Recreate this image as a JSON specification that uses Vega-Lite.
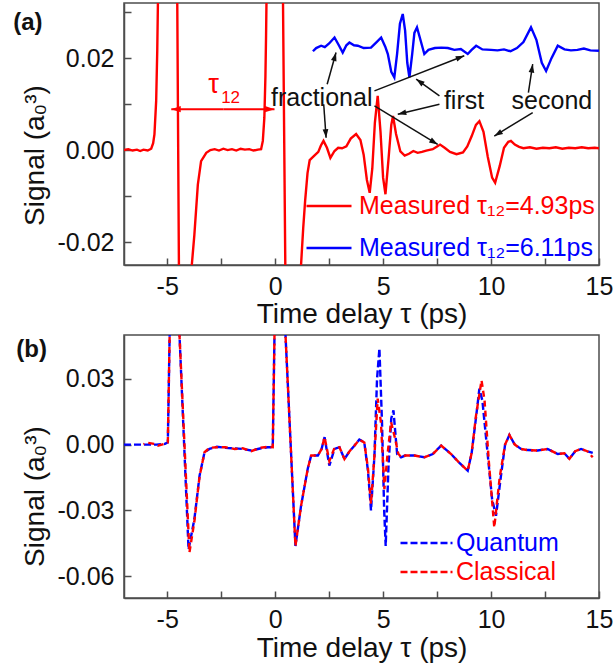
{
  "$schema": "https://vega.github.io/schema/vega-lite/v6.json",
  "background": "white",
  "padding": {"left": 12, "top": 2, "right": 2, "bottom": 2},
  "spacing": 5,
  "config": {
    "font": "Liberation Sans",
    "view": {"stroke": "#4d4d4d", "strokeWidth": 1.5},
    "axis": {"domainColor": "#4d4d4d", "domainWidth": 1.5, "tickColor": "#4d4d4d", "tickWidth": 1.5, "tickSize": -7, "labelColor": "#111", "titleColor": "#111", "labelFontSize": 25, "titleFontSize": 28, "titleFontWeight": "normal", "grid": false, "labelOverlap": false, "labelFlush": false, "labelBound": false},
    "legend": {"labelFontSize": 25, "labelLimit": 400, "symbolType": "stroke", "symbolStrokeWidth": 2.5, "padding": 0, "clipHeight": 28}
  },
  "resolve": {"scale": {"color": "independent"}, "legend": {"color": "independent"}},
  "vconcat": [
    {
      "width": 475, "height": 262,
      "layer": [
        {
          "data": {"values": [
            {"t":-7.0,"v":0.0,"c":"4.93"},{"t":-6.8,"v":0.0002,"c":"4.93"},{"t":-6.6,"v":-0.0001,"c":"4.93"},{"t":-6.4,"v":0.0001,"c":"4.93"},{"t":-6.25,"v":-0.0002,"c":"4.93"},{"t":-6.1,"v":0.0001,"c":"4.93"},{"t":-5.9,"v":-0.0001,"c":"4.93"},{"t":-5.74,"v":0.0003,"c":"4.93"},{"t":-5.65,"v":0.0015,"c":"4.93"},{"t":-5.59,"v":0.0034,"c":"4.93"},{"t":-5.51,"v":0.0107,"c":"4.93"},{"t":-5.46,"v":0.0216,"c":"4.93"},{"t":-5.42,"v":0.035,"c":"4.93"},{"t":-5.3,"v":0.07,"c":"4.93"},{"t":-5.0,"v":0.1,"c":"4.93"},{"t":-4.75,"v":0.08,"c":"4.93"},{"t":-4.55,"v":0.045,"c":"4.93"},{"t":-4.45,"v":-0.03,"c":"4.93"},{"t":-4.2,"v":-0.05,"c":"4.93"},{"t":-4.0,"v":-0.045,"c":"4.93"},{"t":-3.86,"v":-0.025,"c":"4.93"},{"t":-3.74,"v":-0.0184,"c":"4.93"},{"t":-3.58,"v":-0.0075,"c":"4.93"},{"t":-3.43,"v":-0.0024,"c":"4.93"},{"t":-3.19,"v":-0.0006,"c":"4.93"},{"t":-3.0,"v":0.0,"c":"4.93"},{"t":-2.8,"v":0.0002,"c":"4.93"},{"t":-2.6,"v":-0.0001,"c":"4.93"},{"t":-2.4,"v":0.0003,"c":"4.93"},{"t":-2.2,"v":0.0,"c":"4.93"},{"t":-2.0,"v":0.0002,"c":"4.93"},{"t":-1.8,"v":-0.0001,"c":"4.93"},{"t":-1.6,"v":0.0003,"c":"4.93"},{"t":-1.4,"v":0.0001,"c":"4.93"},{"t":-1.2,"v":0.0002,"c":"4.93"},{"t":-1.0,"v":-0.0001,"c":"4.93"},{"t":-0.8,"v":0.0001,"c":"4.93"},{"t":-0.65,"v":0.0002,"c":"4.93"},{"t":-0.57,"v":0.002,"c":"4.93"},{"t":-0.5,"v":0.007,"c":"4.93"},{"t":-0.45,"v":0.016,"c":"4.93"},{"t":-0.42,"v":0.025,"c":"4.93"},{"t":-0.38,"v":0.04,"c":"4.93"},{"t":-0.2,"v":0.09,"c":"4.93"},{"t":0.1,"v":0.09,"c":"4.93"},{"t":0.35,"v":0.04,"c":"4.93"},{"t":0.48,"v":-0.03,"c":"4.93"},{"t":0.75,"v":-0.05,"c":"4.93"},{"t":1.05,"v":-0.04,"c":"4.93"},{"t":1.2,"v":-0.025,"c":"4.93"},{"t":1.3,"v":-0.017,"c":"4.93"},{"t":1.39,"v":-0.011,"c":"4.93"},{"t":1.5,"v":-0.005,"c":"4.93"},{"t":1.6,"v":-0.0022,"c":"4.93"},{"t":1.84,"v":-0.0011,"c":"4.93"},{"t":2.0,"v":-0.0004,"c":"4.93"},{"t":2.12,"v":0.001,"c":"4.93"},{"t":2.24,"v":0.002,"c":"4.93"},{"t":2.4,"v":0.0005,"c":"4.93"},{"t":2.56,"v":-0.0017,"c":"4.93"},{"t":2.75,"v":-0.0002,"c":"4.93"},{"t":2.92,"v":0.0005,"c":"4.93"},{"t":3.1,"v":0.0004,"c":"4.93"},{"t":3.3,"v":0.0008,"c":"4.93"},{"t":3.5,"v":0.0025,"c":"4.93"},{"t":3.75,"v":0.0035,"c":"4.93"},{"t":3.95,"v":0.0022,"c":"4.93"},{"t":4.1,"v":-0.001,"c":"4.93"},{"t":4.25,"v":-0.0065,"c":"4.93"},{"t":4.38,"v":-0.0093,"c":"4.93"},{"t":4.5,"v":-0.004,"c":"4.93"},{"t":4.62,"v":0.006,"c":"4.93"},{"t":4.75,"v":0.0118,"c":"4.93"},{"t":4.88,"v":0.004,"c":"4.93"},{"t":5.0,"v":-0.006,"c":"4.93"},{"t":5.11,"v":-0.0096,"c":"4.93"},{"t":5.25,"v":-0.002,"c":"4.93"},{"t":5.38,"v":0.0055,"c":"4.93"},{"t":5.46,"v":0.0074,"c":"4.93"},{"t":5.6,"v":0.0035,"c":"4.93"},{"t":5.8,"v":-0.0003,"c":"4.93"},{"t":6.0,"v":-0.0012,"c":"4.93"},{"t":6.2,"v":-0.0008,"c":"4.93"},{"t":6.4,"v":-0.0002,"c":"4.93"},{"t":6.6,"v":-0.0006,"c":"4.93"},{"t":6.8,"v":-0.0004,"c":"4.93"},{"t":7.0,"v":-0.0001,"c":"4.93"},{"t":7.3,"v":0.0002,"c":"4.93"},{"t":7.5,"v":0.0008,"c":"4.93"},{"t":7.64,"v":0.0012,"c":"4.93"},{"t":7.85,"v":0.0005,"c":"4.93"},{"t":8.1,"v":-0.0004,"c":"4.93"},{"t":8.4,"v":-0.0009,"c":"4.93"},{"t":8.7,"v":-0.0005,"c":"4.93"},{"t":8.9,"v":0.0008,"c":"4.93"},{"t":9.1,"v":0.003,"c":"4.93"},{"t":9.3,"v":0.0055,"c":"4.93"},{"t":9.46,"v":0.0063,"c":"4.93"},{"t":9.65,"v":0.004,"c":"4.93"},{"t":9.85,"v":-0.0015,"c":"4.93"},{"t":10.05,"v":-0.006,"c":"4.93"},{"t":10.19,"v":-0.0071,"c":"4.93"},{"t":10.4,"v":-0.0035,"c":"4.93"},{"t":10.6,"v":0.0005,"c":"4.93"},{"t":10.8,"v":0.0018,"c":"4.93"},{"t":10.92,"v":0.002,"c":"4.93"},{"t":11.1,"v":0.0012,"c":"4.93"},{"t":11.3,"v":0.0007,"c":"4.93"},{"t":11.5,"v":0.0004,"c":"4.93"},{"t":11.8,"v":0.0006,"c":"4.93"},{"t":12.1,"v":0.0003,"c":"4.93"},{"t":12.4,"v":0.0005,"c":"4.93"},{"t":12.7,"v":0.0004,"c":"4.93"},{"t":13.0,"v":0.0006,"c":"4.93"},{"t":13.3,"v":0.0003,"c":"4.93"},{"t":13.6,"v":0.0005,"c":"4.93"},{"t":13.9,"v":0.0004,"c":"4.93"},{"t":14.2,"v":0.0006,"c":"4.93"},{"t":14.5,"v":0.0004,"c":"4.93"},{"t":14.8,"v":0.0005,"c":"4.93"},{"t":15.0,"v":0.0004,"c":"4.93"},
            {"t":1.75,"v":0.0215,"c":"6.11"},{"t":1.9,"v":0.0222,"c":"6.11"},{"t":2.13,"v":0.0227,"c":"6.11"},{"t":2.3,"v":0.0224,"c":"6.11"},{"t":2.5,"v":0.0232,"c":"6.11"},{"t":2.75,"v":0.0245,"c":"6.11"},{"t":2.95,"v":0.0228,"c":"6.11"},{"t":3.13,"v":0.0212,"c":"6.11"},{"t":3.3,"v":0.0228,"c":"6.11"},{"t":3.44,"v":0.0234,"c":"6.11"},{"t":3.65,"v":0.0228,"c":"6.11"},{"t":3.83,"v":0.0227,"c":"6.11"},{"t":4.1,"v":0.0222,"c":"6.11"},{"t":4.44,"v":0.0223,"c":"6.11"},{"t":4.7,"v":0.0235,"c":"6.11"},{"t":4.91,"v":0.0245,"c":"6.11"},{"t":5.1,"v":0.0225,"c":"6.11"},{"t":5.22,"v":0.0209,"c":"6.11"},{"t":5.38,"v":0.017,"c":"6.11"},{"t":5.52,"v":0.0158,"c":"6.11"},{"t":5.65,"v":0.021,"c":"6.11"},{"t":5.78,"v":0.0275,"c":"6.11"},{"t":5.91,"v":0.0296,"c":"6.11"},{"t":6.02,"v":0.026,"c":"6.11"},{"t":6.12,"v":0.019,"c":"6.11"},{"t":6.22,"v":0.0158,"c":"6.11"},{"t":6.35,"v":0.021,"c":"6.11"},{"t":6.45,"v":0.0255,"c":"6.11"},{"t":6.57,"v":0.0267,"c":"6.11"},{"t":6.7,"v":0.0245,"c":"6.11"},{"t":6.91,"v":0.0209,"c":"6.11"},{"t":7.1,"v":0.0218,"c":"6.11"},{"t":7.4,"v":0.0222,"c":"6.11"},{"t":7.7,"v":0.0223,"c":"6.11"},{"t":8.0,"v":0.0222,"c":"6.11"},{"t":8.3,"v":0.0218,"c":"6.11"},{"t":8.6,"v":0.022,"c":"6.11"},{"t":8.92,"v":0.0209,"c":"6.11"},{"t":9.1,"v":0.0218,"c":"6.11"},{"t":9.31,"v":0.0227,"c":"6.11"},{"t":9.6,"v":0.0219,"c":"6.11"},{"t":10.0,"v":0.0218,"c":"6.11"},{"t":10.3,"v":0.0217,"c":"6.11"},{"t":10.6,"v":0.0219,"c":"6.11"},{"t":10.9,"v":0.0215,"c":"6.11"},{"t":11.2,"v":0.0222,"c":"6.11"},{"t":11.5,"v":0.0235,"c":"6.11"},{"t":11.85,"v":0.0267,"c":"6.11"},{"t":12.1,"v":0.024,"c":"6.11"},{"t":12.35,"v":0.019,"c":"6.11"},{"t":12.55,"v":0.0172,"c":"6.11"},{"t":12.8,"v":0.02,"c":"6.11"},{"t":13.09,"v":0.0227,"c":"6.11"},{"t":13.4,"v":0.0219,"c":"6.11"},{"t":13.7,"v":0.0217,"c":"6.11"},{"t":14.0,"v":0.0218,"c":"6.11"},{"t":14.3,"v":0.0221,"c":"6.11"},{"t":14.6,"v":0.0217,"c":"6.11"},{"t":15.0,"v":0.0216,"c":"6.11"}
          ]},
          "mark": {"type": "line", "clip": true, "strokeWidth": 2.4},
          "encoding": {
            "x": {"field": "t", "type": "quantitative", "scale": {"domain": [-7, 15], "nice": false, "zero": false},
                  "axis": {"title": "Time delay τ (ps)", "values": [-5, -2.5, 0, 2.5, 5, 7.5, 10, 12.5, 15], "labelExpr": "datum.value % 5 == 0 ? replace(datum.label, '−', '-') : ''", "labelFontSize": {"condition": {"test": "datum.value % 5 == 0", "value": 25}, "value": 0}, "labelPadding": 16, "titleBaseline": "alphabetic", "titleY": 57}},
            "y": {"field": "v", "type": "quantitative", "scale": {"domain": [-0.025, 0.032], "nice": false, "zero": false},
                  "axis": {"title": "Signal (a₀³)", "values": [-0.02, -0.01, 0, 0.01, 0.02, 0.03], "labelExpr": "(datum.value == 0 || abs(datum.value) == 0.02) ? replace(format(datum.value, '.2f'), '−', '-') : ''", "labelFontSize": {"condition": {"test": "datum.value == 0 || abs(datum.value) == 0.02", "value": 25}, "value": 0}, "labelPadding": 17, "titleX": -81, "titleY": 152, "titleBaseline": "alphabetic"}},
            "color": {"field": "c", "type": "nominal", "scale": {"domain": ["4.93", "6.11"], "range": ["#ff0000", "#0000ff"]},
                      "legend": {"title": null, "orient": "none", "legendX": 181, "legendY": 189, "symbolSize": 2025, "labelOffset": 6, "rowPadding": 14, "labelExpr": "'Measured τ₁₂=' + datum.label + 'ps'",
                                 "encode": {"labels": {"update": {"fill": {"signal": "datum.value == '4.93' ? '#ff0000' : '#0000ff'"}}}}}}
          }
        },
        {
          "data": {"values": [
            {"x": -2.4, "y": 0.0089, "x2": -4.81, "y2": 0.0089},
            {"x": -2.4, "y": 0.0089, "x2": -0.03, "y2": 0.0089}
          ]},
          "transform": [{"calculate": "atan2((datum.x2 - datum.x) * 21.59, (datum.y2 - datum.y) * 4596) * 180 / PI", "as": "ang"}],
          "layer": [
            {"mark": {"type": "rule", "color": "#ff0000", "strokeWidth": 2},
             "encoding": {"x": {"field": "x", "type": "quantitative"}, "y": {"field": "y", "type": "quantitative"}, "x2": {"field": "x2"}, "y2": {"field": "y2"}}},
            {"mark": {"type": "point", "shape": "M0,0L-0.6,1.8L0.6,1.8Z", "filled": true, "color": "#ff0000", "size": 110, "opacity": 1},
             "encoding": {"x": {"field": "x2", "type": "quantitative"}, "y": {"field": "y2", "type": "quantitative"}, "angle": {"field": "ang", "type": "quantitative", "scale": null}}}
          ]
        },
        {
          "data": {"values": [
            {"x": 2.41, "y": 0.01434, "x2": 2.82, "y2": 0.02124},
            {"x": 2.25, "y": 0.00998, "x2": 2.36, "y2": 0.00269},
            {"x": 4.6, "y": 0.01288, "x2": 8.76, "y2": 0.02052},
            {"x": 4.6, "y": 0.00961, "x2": 7.53, "y2": 0.00124},
            {"x": 7.61, "y": 0.01179, "x2": 6.53, "y2": 0.01544},
            {"x": 7.61, "y": 0.00998, "x2": 5.68, "y2": 0.00779},
            {"x": 11.73, "y": 0.01251, "x2": 11.93, "y2": 0.01871},
            {"x": 11.93, "y": 0.00814, "x2": 10.15, "y2": 0.00306}
          ]},
          "transform": [{"calculate": "atan2((datum.x2 - datum.x) * 21.59, (datum.y2 - datum.y) * 4596) * 180 / PI", "as": "ang"}],
          "layer": [
            {"mark": {"type": "rule", "color": "#111", "strokeWidth": 1.5},
             "encoding": {"x": {"field": "x", "type": "quantitative"}, "y": {"field": "y", "type": "quantitative"}, "x2": {"field": "x2"}, "y2": {"field": "y2"}}},
            {"mark": {"type": "point", "shape": "M0,0L-0.6,1.8L0.6,1.8Z", "filled": true, "color": "#111", "size": 90, "opacity": 1},
             "encoding": {"x": {"field": "x2", "type": "quantitative"}, "y": {"field": "y2", "type": "quantitative"}, "angle": {"field": "ang", "type": "quantitative", "scale": null}}}
          ]
        },
        {
          "data": {"values": [
            {"x": 2.157, "y": 0.0096, "label": "fractional"},
            {"x": 8.75, "y": 0.00895, "label": "first"},
            {"x": 12.82, "y": 0.00895, "label": "second"}
          ]},
          "mark": {"type": "text", "fontSize": 25, "color": "#111", "align": "center", "baseline": "alphabetic"},
          "encoding": {"x": {"field": "x", "type": "quantitative"}, "y": {"field": "y", "type": "quantitative"}, "text": {"field": "label"}}
        },
        {
          "data": {"values": [{"x": -2.85, "y": 0.01245, "label": "τ"}]},
          "mark": {"type": "text", "fontSize": 27, "color": "#ff0000", "align": "center", "baseline": "alphabetic"},
          "encoding": {"x": {"field": "x", "type": "quantitative"}, "y": {"field": "y", "type": "quantitative"}, "text": {"field": "label"}}
        },
        {
          "data": {"values": [{"x": -2.5, "y": 0.01026, "label": "12"}]},
          "mark": {"type": "text", "fontSize": 17, "color": "#ff0000", "align": "left", "baseline": "alphabetic"},
          "encoding": {"x": {"field": "x", "type": "quantitative"}, "y": {"field": "y", "type": "quantitative"}, "text": {"field": "label"}}
        },
        {
          "data": {"values": [{"x": -12.13, "y": 0.02613, "label": "(a)"}]},
          "mark": {"type": "text", "fontSize": 24, "fontWeight": "bold", "color": "#111", "align": "left", "baseline": "alphabetic", "clip": false},
          "encoding": {"x": {"field": "x", "type": "quantitative"}, "y": {"field": "y", "type": "quantitative"}, "text": {"field": "label"}}
        }
      ]
    },
    {
      "width": 475, "height": 263,
      "data": {"values": [
        {"t":-7.0,"v":0.0,"c":"Quantum"},{"t":-6.5,"v":0.0,"c":"Quantum"},{"t":-6.0,"v":0.0,"c":"Quantum"},{"t":-5.5,"v":0.0,"c":"Quantum"},{"t":-5.1,"v":0.0003,"c":"Quantum"},{"t":-4.97,"v":0.001,"c":"Quantum"},{"t":-4.8,"v":0.1,"c":"Quantum"},{"t":-4.6,"v":0.1,"c":"Quantum"},{"t":-4.43,"v":0.05,"c":"Quantum"},{"t":-4.01,"v":-0.0478,"c":"Quantum"},{"t":-3.74,"v":-0.034,"c":"Quantum"},{"t":-3.5,"v":-0.0142,"c":"Quantum"},{"t":-3.27,"v":-0.0035,"c":"Quantum"},{"t":-3.04,"v":-0.002,"c":"Quantum"},{"t":-2.7,"v":-0.001,"c":"Quantum"},{"t":-2.3,"v":-0.0015,"c":"Quantum"},{"t":-1.88,"v":-0.0017,"c":"Quantum"},{"t":-1.5,"v":-0.002,"c":"Quantum"},{"t":-1.11,"v":-0.0027,"c":"Quantum"},{"t":-0.7,"v":-0.0018,"c":"Quantum"},{"t":-0.34,"v":-0.0012,"c":"Quantum"},{"t":-0.11,"v":-0.0012,"c":"Quantum"},{"t":-0.03,"v":0.05,"c":"Quantum"},{"t":0.1,"v":0.1,"c":"Quantum"},{"t":0.3,"v":0.1,"c":"Quantum"},{"t":0.48,"v":0.05,"c":"Quantum"},{"t":0.94,"v":-0.0463,"c":"Quantum"},{"t":1.2,"v":-0.028,"c":"Quantum"},{"t":1.51,"v":-0.011,"c":"Quantum"},{"t":1.67,"v":-0.005,"c":"Quantum"},{"t":1.98,"v":-0.005,"c":"Quantum"},{"t":2.15,"v":-0.002,"c":"Quantum"},{"t":2.29,"v":0.0034,"c":"Quantum"},{"t":2.51,"v":-0.0096,"c":"Quantum"},{"t":2.75,"v":-0.002,"c":"Quantum"},{"t":2.98,"v":-0.0012,"c":"Quantum"},{"t":3.21,"v":-0.0066,"c":"Quantum"},{"t":3.45,"v":-0.003,"c":"Quantum"},{"t":3.67,"v":-0.0005,"c":"Quantum"},{"t":3.9,"v":0.0023,"c":"Quantum"},{"t":4.13,"v":0.001,"c":"Quantum"},{"t":4.3,"v":-0.012,"c":"Quantum"},{"t":4.44,"v":-0.03,"c":"Quantum"},{"t":4.6,"v":-0.005,"c":"Quantum"},{"t":4.72,"v":0.03,"c":"Quantum"},{"t":4.83,"v":0.0438,"c":"Quantum"},{"t":4.95,"v":0.01,"c":"Quantum"},{"t":5.05,"v":-0.03,"c":"Quantum"},{"t":5.12,"v":-0.0463,"c":"Quantum"},{"t":5.25,"v":-0.01,"c":"Quantum"},{"t":5.38,"v":0.012,"c":"Quantum"},{"t":5.48,"v":0.0156,"c":"Quantum"},{"t":5.65,"v":-0.0043,"c":"Quantum"},{"t":5.83,"v":-0.0058,"c":"Quantum"},{"t":6.02,"v":-0.005,"c":"Quantum"},{"t":6.45,"v":-0.005,"c":"Quantum"},{"t":6.91,"v":-0.0058,"c":"Quantum"},{"t":7.3,"v":-0.0043,"c":"Quantum"},{"t":7.69,"v":-0.0005,"c":"Quantum"},{"t":8.15,"v":-0.0043,"c":"Quantum"},{"t":8.5,"v":-0.008,"c":"Quantum"},{"t":8.92,"v":-0.0119,"c":"Quantum"},{"t":9.1,"v":-0.004,"c":"Quantum"},{"t":9.3,"v":0.012,"c":"Quantum"},{"t":9.46,"v":0.0255,"c":"Quantum"},{"t":9.6,"v":0.02,"c":"Quantum"},{"t":9.85,"v":-0.005,"c":"Quantum"},{"t":10.05,"v":-0.025,"c":"Quantum"},{"t":10.23,"v":-0.0325,"c":"Quantum"},{"t":10.45,"v":-0.015,"c":"Quantum"},{"t":10.65,"v":0.0,"c":"Quantum"},{"t":10.85,"v":0.0044,"c":"Quantum"},{"t":11.1,"v":0.0,"c":"Quantum"},{"t":11.39,"v":-0.002,"c":"Quantum"},{"t":11.7,"v":-0.0025,"c":"Quantum"},{"t":12.16,"v":-0.0027,"c":"Quantum"},{"t":12.62,"v":-0.002,"c":"Quantum"},{"t":13.09,"v":-0.0043,"c":"Quantum"},{"t":13.4,"v":-0.004,"c":"Quantum"},{"t":13.63,"v":-0.0065,"c":"Quantum"},{"t":13.9,"v":-0.003,"c":"Quantum"},{"t":14.17,"v":-0.002,"c":"Quantum"},{"t":14.45,"v":-0.003,"c":"Quantum"},{"t":14.71,"v":-0.0038,"c":"Quantum"},
        {"t":-6.1,"v":0.0002,"c":"Classical"},{"t":-5.89,"v":0.0008,"c":"Classical"},{"t":-5.6,"v":0.0003,"c":"Classical"},{"t":-5.43,"v":-0.0005,"c":"Classical"},{"t":-5.12,"v":0.0003,"c":"Classical"},{"t":-4.97,"v":0.001,"c":"Classical"},{"t":-4.8,"v":0.1,"c":"Classical"},{"t":-4.6,"v":0.1,"c":"Classical"},{"t":-4.43,"v":0.05,"c":"Classical"},{"t":-3.97,"v":-0.0493,"c":"Classical"},{"t":-3.74,"v":-0.035,"c":"Classical"},{"t":-3.5,"v":-0.0145,"c":"Classical"},{"t":-3.27,"v":-0.0035,"c":"Classical"},{"t":-3.04,"v":-0.0015,"c":"Classical"},{"t":-2.7,"v":-0.0012,"c":"Classical"},{"t":-2.3,"v":-0.0012,"c":"Classical"},{"t":-1.88,"v":-0.002,"c":"Classical"},{"t":-1.5,"v":-0.0017,"c":"Classical"},{"t":-1.11,"v":-0.003,"c":"Classical"},{"t":-0.7,"v":-0.0015,"c":"Classical"},{"t":-0.34,"v":-0.001,"c":"Classical"},{"t":-0.11,"v":-0.0012,"c":"Classical"},{"t":-0.03,"v":0.05,"c":"Classical"},{"t":0.1,"v":0.1,"c":"Classical"},{"t":0.3,"v":0.1,"c":"Classical"},{"t":0.48,"v":0.05,"c":"Classical"},{"t":0.94,"v":-0.0463,"c":"Classical"},{"t":1.2,"v":-0.028,"c":"Classical"},{"t":1.51,"v":-0.011,"c":"Classical"},{"t":1.67,"v":-0.005,"c":"Classical"},{"t":1.98,"v":-0.005,"c":"Classical"},{"t":2.15,"v":-0.002,"c":"Classical"},{"t":2.29,"v":0.0034,"c":"Classical"},{"t":2.51,"v":-0.0075,"c":"Classical"},{"t":2.75,"v":-0.0015,"c":"Classical"},{"t":2.98,"v":-0.0012,"c":"Classical"},{"t":3.21,"v":-0.0066,"c":"Classical"},{"t":3.45,"v":-0.003,"c":"Classical"},{"t":3.67,"v":-0.0005,"c":"Classical"},{"t":3.9,"v":0.0023,"c":"Classical"},{"t":4.13,"v":0.001,"c":"Classical"},{"t":4.3,"v":-0.011,"c":"Classical"},{"t":4.44,"v":-0.027,"c":"Classical"},{"t":4.6,"v":-0.005,"c":"Classical"},{"t":4.75,"v":0.021,"c":"Classical"},{"t":4.9,"v":0.01,"c":"Classical"},{"t":5.06,"v":-0.0203,"c":"Classical"},{"t":5.2,"v":-0.005,"c":"Classical"},{"t":5.37,"v":0.0103,"c":"Classical"},{"t":5.55,"v":0.003,"c":"Classical"},{"t":5.7,"v":-0.004,"c":"Classical"},{"t":5.83,"v":-0.0058,"c":"Classical"},{"t":6.02,"v":-0.005,"c":"Classical"},{"t":6.45,"v":-0.005,"c":"Classical"},{"t":6.91,"v":-0.0058,"c":"Classical"},{"t":7.3,"v":-0.0043,"c":"Classical"},{"t":7.69,"v":-0.0005,"c":"Classical"},{"t":8.15,"v":-0.0043,"c":"Classical"},{"t":8.5,"v":-0.008,"c":"Classical"},{"t":8.92,"v":-0.0119,"c":"Classical"},{"t":9.1,"v":-0.004,"c":"Classical"},{"t":9.3,"v":0.013,"c":"Classical"},{"t":9.56,"v":0.0293,"c":"Classical"},{"t":9.7,"v":0.02,"c":"Classical"},{"t":9.9,"v":-0.008,"c":"Classical"},{"t":10.15,"v":-0.0378,"c":"Classical"},{"t":10.4,"v":-0.015,"c":"Classical"},{"t":10.65,"v":0.0,"c":"Classical"},{"t":10.85,"v":0.0044,"c":"Classical"},{"t":11.1,"v":0.0,"c":"Classical"},{"t":11.39,"v":-0.002,"c":"Classical"},{"t":11.7,"v":-0.0025,"c":"Classical"},{"t":12.16,"v":-0.0027,"c":"Classical"},{"t":12.62,"v":-0.002,"c":"Classical"},{"t":13.09,"v":-0.0043,"c":"Classical"},{"t":13.4,"v":-0.004,"c":"Classical"},{"t":13.63,"v":-0.0065,"c":"Classical"},{"t":13.9,"v":-0.003,"c":"Classical"},{"t":14.17,"v":-0.002,"c":"Classical"},{"t":14.45,"v":-0.003,"c":"Classical"},{"t":14.71,"v":-0.0058,"c":"Classical"}
      ]},
      "layer": [
        {
          "transform": [{"filter": "datum.c == 'Quantum'"}],
          "mark": {"type": "line", "clip": true, "strokeWidth": 2.4, "strokeDash": [7, 3]},
          "encoding": {
            "x": {"field": "t", "type": "quantitative", "scale": {"domain": [-7, 15], "nice": false, "zero": false},
                  "axis": {"title": "Time delay τ (ps)", "values": [-5, -2.5, 0, 2.5, 5, 7.5, 10, 12.5, 15], "labelExpr": "datum.value % 5 == 0 ? replace(datum.label, '−', '-') : ''", "labelFontSize": {"condition": {"test": "datum.value % 5 == 0", "value": 25}, "value": 0}, "labelPadding": 16, "titleBaseline": "alphabetic", "titleY": 58}},
            "y": {"field": "v", "type": "quantitative", "scale": {"domain": [-0.07, 0.05], "nice": false, "zero": false},
                  "axis": {"title": "Signal (a₀³)", "values": [-0.06, -0.045, -0.03, -0.015, 0, 0.015, 0.03, 0.045], "labelExpr": "(abs(datum.value) < 1e-9 || abs(abs(datum.value) - 0.03) < 1e-9 || abs(abs(datum.value) - 0.06) < 1e-9) ? replace(format(datum.value, '.2f'), '−', '-') : ''", "labelFontSize": {"condition": {"test": "abs(datum.value) < 1e-9 || abs(abs(datum.value) - 0.03) < 1e-9 || abs(abs(datum.value) - 0.06) < 1e-9", "value": 25}, "value": 0}, "labelPadding": 17, "titleX": -81, "titleY": 161, "titleBaseline": "alphabetic"}},
            "color": {"field": "c", "type": "nominal", "scale": {"domain": ["Quantum", "Classical"], "range": ["#0000ff", "#ff0000"]},
                      "legend": {"title": null, "orient": "none", "legendX": 275, "legendY": 194, "symbolSize": 2704, "symbolDash": [7, 3], "labelOffset": 2, "rowPadding": 1,
                                 "encode": {"labels": {"update": {"fill": {"signal": "datum.value == 'Quantum' ? '#0000ff' : '#ff0000'"}}}}}}
          }
        },
        {
          "transform": [{"filter": "datum.c == 'Classical'"}],
          "mark": {"type": "line", "clip": true, "strokeWidth": 2.4, "strokeDash": [6, 4], "strokeDashOffset": 5},
          "encoding": {
            "x": {"field": "t", "type": "quantitative"},
            "y": {"field": "v", "type": "quantitative"},
            "color": {"field": "c", "type": "nominal"}
          }
        },
        {
          "data": {"values": [{"x": -11.99, "y": 0.03996, "label": "(b)"}]},
          "mark": {"type": "text", "fontSize": 24, "fontWeight": "bold", "color": "#111", "align": "left", "baseline": "alphabetic", "clip": false},
          "encoding": {"x": {"field": "x", "type": "quantitative"}, "y": {"field": "y", "type": "quantitative"}, "text": {"field": "label"}}
        }
      ]
    }
  ]
}
